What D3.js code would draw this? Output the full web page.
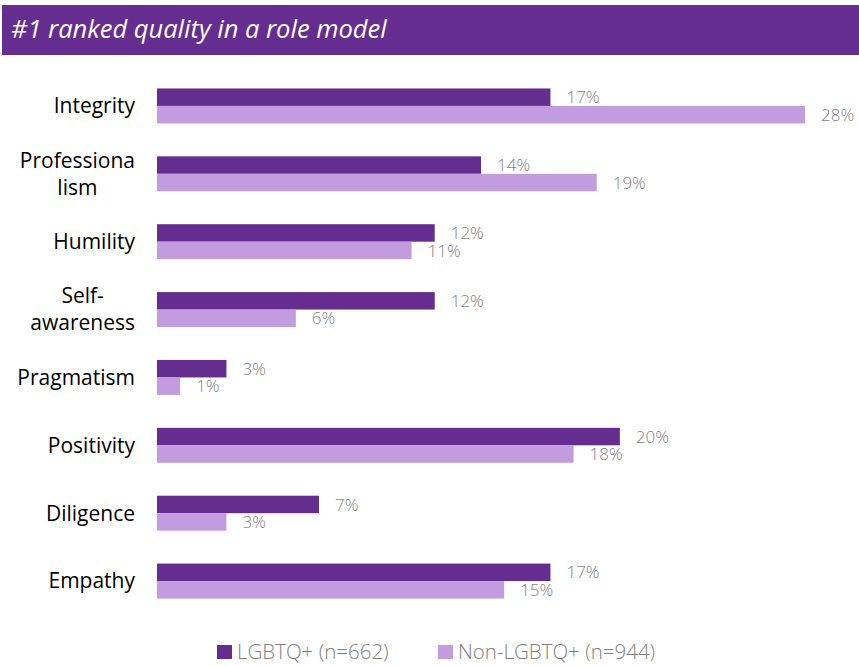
<!DOCTYPE html>
<html>
<head>
<meta charset="utf-8">
<script src="https://cdn.jsdelivr.net/npm/d3@7"></script>
<style>
  html, body { margin: 0; padding: 0; background: #fff; }
  svg { display: block; }
</style>
</head>
<body>
<svg id="chart" width="859" height="666"></svg>
<script>
// Survey: #1 ranked quality in a role model (% of respondents)
const categories = ["Integrity", "Professiona\nlism", "Humility", "Self-\nawareness", "Pragmatism", "Positivity", "Diligence", "Empathy"];
const seriesNames = ["LGBTQ+ (n=662)", "Non-LGBTQ+ (n=944)"];
const lgbtqValues = [17, 14, 12, 12, 3, 20, 7, 17];
const nonLgbtqValues = [28, 19, 11, 6, 1, 18, 3, 15];
const seriesColors = ["#652d8f", "#c39ce0"];

const FONT = "'Open Sans', sans-serif";
const svg = d3.select("#chart");
const W = 859, H = 666;

// Title banner
svg.append("rect").attr("x", 2).attr("y", 5).attr("width", W - 2).attr("height", 50).attr("fill", "#652d8f");
svg.append("text")
  .attr("x", 11).attr("y", 38)
  .attr("fill", "#fff")
  .attr("font-family", FONT)
  .attr("font-style", "italic")
  .attr("font-size", 25.5)
  .text("#1 ranked quality in a role model");

const series = [lgbtqValues, nonLgbtqValues];
const data = categories.map((c, i) => ({ cat: c, vals: series.map(s => s[i]) }));

const y = d3.scaleBand().domain(categories).range([72, 615]).paddingInner(0.485).paddingOuter(0.2425);
const ySub = d3.scaleBand().domain([0, 1]).range([0, y.bandwidth()]);
const x = d3.scaleLinear().domain([0, 28]).range([157, 805]);

const groups = svg.append("g").selectAll("g").data(data).join("g")
  .attr("transform", d => `translate(0,${y(d.cat)})`);

groups.selectAll("rect").data(d => d.vals.map((v, k) => ({ v, k }))).join("rect")
  .attr("x", x(0))
  .attr("y", d => ySub(d.k))
  .attr("width", d => x(d.v) - x(0))
  .attr("height", ySub.bandwidth())
  .attr("fill", d => seriesColors[d.k]);

groups.selectAll("text.val").data(d => d.vals.map((v, k) => ({ v, k }))).join("text")
  .attr("class", "val")
  .attr("x", d => x(d.v) + 16)
  .attr("y", d => ySub(d.k) + ySub.bandwidth() / 2)
  .attr("dy", "0.36em")
  .attr("fill", "#7f7f7f")
  .attr("font-family", FONT)
  .attr("font-weight", 300)
  .attr("font-size", 17)
  .text(d => d.v + "%");

// Category labels (multi-line labels centred on their longest line)
const labelRight = 135;
const lineH = 27;
groups.each(function(d) {
  const g = d3.select(this);
  const lines = d.cat.split("\n");
  const t = g.append("text")
    .attr("font-family", FONT)
    .attr("font-size", 21)
    .attr("fill", "#000");
  const cy = y.bandwidth() / 2;
  lines.forEach((ln, i) => {
    t.append("tspan").attr("y", cy + (i - (lines.length - 1) / 2) * lineH).attr("dy", "0.35em").text(ln);
  });
  if (lines.length === 1) {
    t.attr("text-anchor", "end").selectAll("tspan").attr("x", labelRight);
  } else {
    let maxW = 0;
    t.selectAll("tspan").each(function() { maxW = Math.max(maxW, this.getComputedTextLength()); });
    t.attr("text-anchor", "middle").selectAll("tspan").attr("x", labelRight - maxW / 2);
  }
});

// Legend
const legendX = [217, 438];
const legend = svg.append("g").selectAll("g").data(seriesNames).join("g")
  .attr("transform", (d, i) => `translate(${legendX[i]},645)`);
legend.append("rect").attr("width", 15).attr("height", 14).attr("fill", (d, i) => seriesColors[i]);
legend.append("text")
  .attr("x", 20).attr("y", 7).attr("dy", "0.36em")
  .attr("fill", "#7f7f7f")
  .attr("font-family", FONT)
  .attr("font-weight", 300)
  .attr("font-size", 20.5)
  .text(d => d);
</script>
</body>
</html>
